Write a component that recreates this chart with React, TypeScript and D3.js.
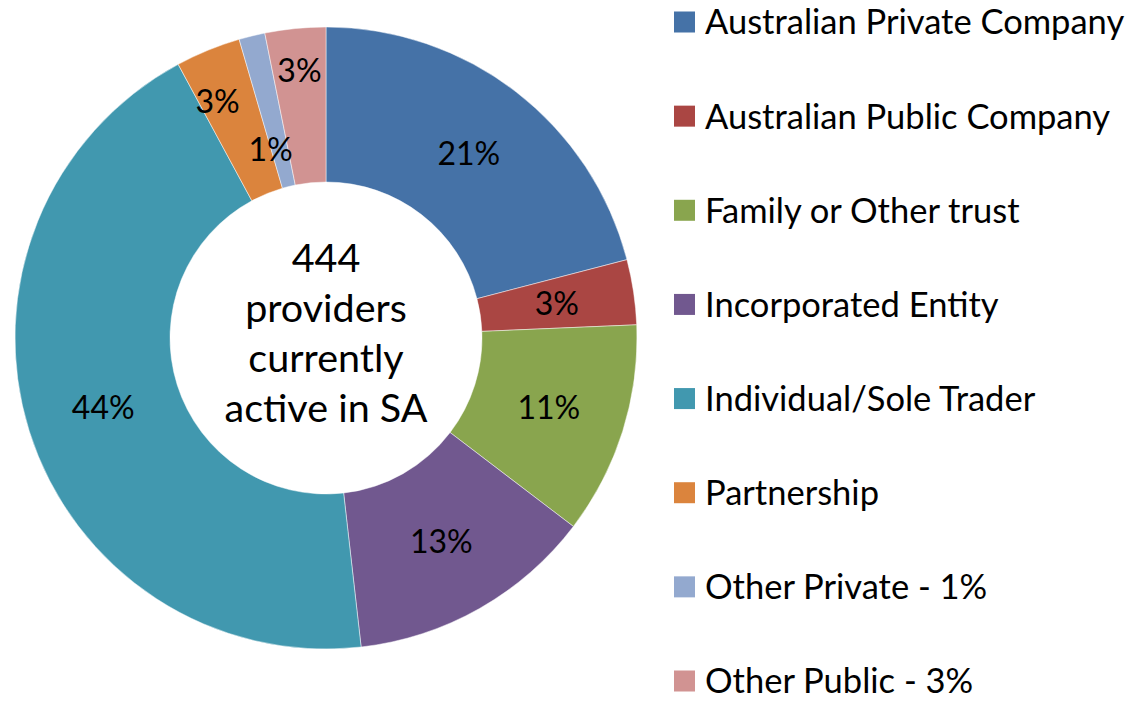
import React from "react";
import * as d3 from "d3";

const categories = [
  "Australian Private Company",
  "Australian Public Company",
  "Family or Other trust",
  "Incorporated Entity",
  "Individual/Sole Trader",
  "Partnership",
  "Other Private - 1%",
  "Other Public - 3%",
];
const counts = [93, 15, 49, 57, 195, 15, 6, 14];
const colors = ["#4572A7", "#AA4643", "#89A54E", "#71588F", "#4198AF", "#DB843D", "#93A9CF", "#D19392"];
const centerLines = ["444", "providers", "currently", "active in SA"];
// label radius relative to the ring's middle (Excel-style overlap avoidance)
const labelRadiusShift = [0, 0, 0, 0, 0, 27, -37, 35];
const labelAngleShift = [0, 0, 0, 0, 0, -0.04, -0.045, 0];

const W = 1130;
const H = 708;
const cx = 326;
const cy = 338;
const rOuter = 311;
const rInner = 156;
const FONT = "Lato, 'Noto Sans', sans-serif";

export default function App() {
  const total = d3.sum(counts);
  const pie = d3.pie<number>().sort(null).value((d) => d);
  const arcs = pie(counts);
  const arcGen = d3.arc<d3.PieArcDatum<number>>().innerRadius(rInner).outerRadius(rOuter);
  const mid = (rInner + rOuter) / 2;
  const legendY = d3.scalePoint<number>().domain(d3.range(categories.length)).range([22, 681]);
  const fmt = (v: number) => `${Math.round((v / total) * 100)}%`;
  const lineY = d3.scalePoint<number>().domain(d3.range(centerLines.length)).range([258, 408]);

  return (
    <svg width={W} height={H} style={{ position: "absolute", left: 0, top: 0, background: "#fff" }} fontFamily={FONT}>
      <g transform={`translate(${cx},${cy})`}>
        {arcs.map((a, i) => (
          <path key={i} d={arcGen(a) || ""} fill={colors[i]} stroke="#fff" strokeWidth={0.6} strokeOpacity={0.8} />
        ))}
        {arcs.map((a, i) => {
          const ang = (a.startAngle + a.endAngle) / 2 + labelAngleShift[i];
          const r = mid + labelRadiusShift[i];
          return (
            <text
              key={i}
              x={r * Math.sin(ang)}
              y={-r * Math.cos(ang)}
              textAnchor="middle"
              dy="0.36em"
              fontSize={32}
              fill="#000"
            >
              {fmt(a.data)}
            </text>
          );
        })}
        {centerLines.map((t, i) => (
          <text key={t} x={0} y={lineY(i)! - cy} textAnchor="middle" dy="0.36em" fontSize={39.5} fill="#000">
            {t}
          </text>
        ))}
      </g>
      {categories.map((c, i) => (
        <g key={c} transform={`translate(674,${legendY(i)})`}>
          <rect x={0} y={-10.5} width={21} height={21} fill={colors[i]} />
          <text x={31} y={0} dy="0.36em" fontSize={34.5} fill="#000">
            {c}
          </text>
        </g>
      ))}
    </svg>
  );
}
